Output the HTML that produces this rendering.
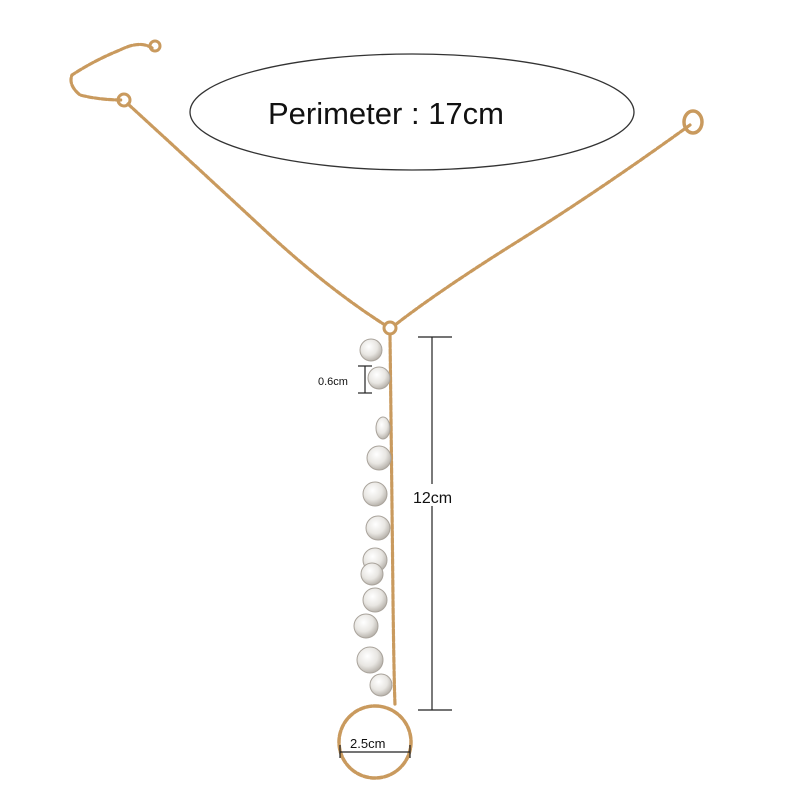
<!DOCTYPE html>
<html><head><meta charset="utf-8"><style>
html,body{margin:0;padding:0;background:#fff}
svg{display:block}
text{font-family:"Liberation Sans",sans-serif;fill:#111}
</style></head><body>
<svg width="800" height="800" viewBox="0 0 800 800">
<defs>
<radialGradient id="cr" cx="40%" cy="35%" r="65%">
<stop offset="0" stop-color="#ffffff"/><stop offset="0.6" stop-color="#e8e6e2"/><stop offset="1" stop-color="#b9b4ad"/>
</radialGradient>
</defs>
<!-- ellipse label -->
<ellipse cx="412" cy="112" rx="222" ry="58" fill="none" stroke="#333" stroke-width="1.3"/>
<text x="386" y="124" font-size="31" text-anchor="middle">Perimeter : 17cm</text>
<!-- chains -->
<g fill="none" stroke="#c99a5e" stroke-width="3.2" stroke-dasharray="5 2" stroke-linecap="round">
<path d="M152 48 Q140 40 120 50 Q95 60 72 75 Q68 85 80 95 Q100 100 122 100"/>
<path d="M128 104 Q200 170 270 235 Q330 290 385 325"/>
<path d="M690 125 Q600 190 520 240 Q440 290 395 325"/>
<path d="M390 335 Q392 500 393 600 Q394 680 395 705"/>
<circle cx="375" cy="742" r="36" stroke-width="3.5"/>
</g>
<circle cx="124" cy="100" r="6" fill="none" stroke="#c99a5e" stroke-width="3"/>
<circle cx="155" cy="46" r="5" fill="none" stroke="#c99a5e" stroke-width="3"/>
<ellipse cx="693" cy="122" rx="9" ry="11" fill="none" stroke="#c99a5e" stroke-width="3.5"/>
<circle cx="390" cy="328" r="6" fill="none" stroke="#c99a5e" stroke-width="3"/>
<!-- crystals -->
<g fill="url(#cr)" stroke="#a9a39b" stroke-width="1">
<circle cx="371" cy="350" r="11"/>
<circle cx="379" cy="378" r="11"/>
<ellipse cx="383" cy="428" rx="7" ry="11"/>
<circle cx="379" cy="458" r="12"/>
<circle cx="375" cy="494" r="12"/>
<circle cx="378" cy="528" r="12"/>
<circle cx="375" cy="560" r="12"/>
<circle cx="372" cy="574" r="11"/>
<circle cx="375" cy="600" r="12"/>
<circle cx="366" cy="626" r="12"/>
<circle cx="370" cy="660" r="13"/>
<circle cx="381" cy="685" r="11"/>
</g>
<!-- dimension lines -->
<g stroke="#222" stroke-width="1.2" fill="none">
<line x1="432" y1="337" x2="432" y2="710"/>
<line x1="418" y1="337" x2="452" y2="337"/>
<line x1="418" y1="710" x2="452" y2="710"/>
<line x1="365" y1="366" x2="365" y2="393"/>
<line x1="358" y1="366" x2="372" y2="366"/>
<line x1="358" y1="393" x2="372" y2="393"/>
<line x1="340" y1="752" x2="410" y2="752"/>
<line x1="340" y1="745" x2="340" y2="758"/>
<line x1="410" y1="745" x2="410" y2="758"/>
</g>
<rect x="414" y="484" width="46" height="22" fill="#fff"/>
<text x="413" y="503" font-size="16">12cm</text>
<text x="318" y="385" font-size="11">0.6cm</text>
<text x="350" y="748" font-size="13">2.5cm</text>
</svg>
</body></html>
